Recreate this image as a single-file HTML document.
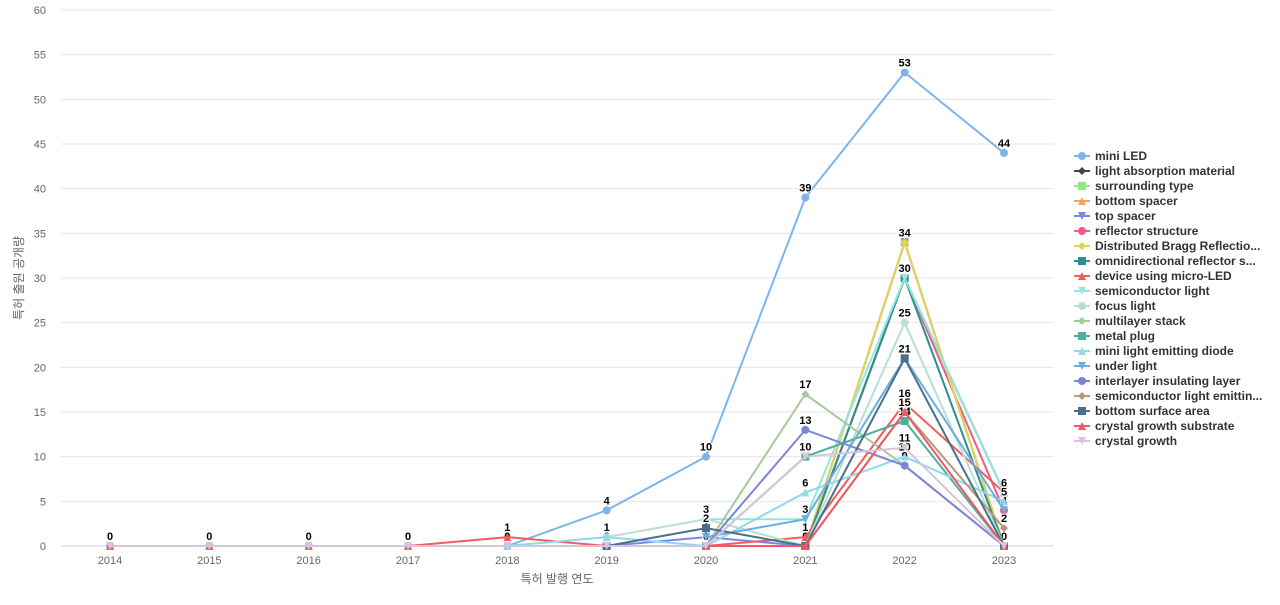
<!DOCTYPE html>
<html><head><meta charset="utf-8"><style>
body{margin:0;background:#fff;font-family:"Liberation Sans","Noto Sans CJK KR",sans-serif}
</style></head><body>
<svg id="c" width="1280" height="600" xmlns="http://www.w3.org/2000/svg"></svg>
<script>
const years=[2014,2015,2016,2017,2018,2019,2020,2021,2022,2023];
const yTicks=[0,5,10,15,20,25,30,35,40,45,50,55,60];
const names=["mini LED","light absorption material","surrounding type","bottom spacer","top spacer","reflector structure","Distributed Bragg Reflectio...","omnidirectional reflector s...","device using micro-LED","semiconductor light","focus light","multilayer stack","metal plug","mini light emitting diode","under light","interlayer insulating layer","semiconductor light emittin...","bottom surface area","crystal growth substrate","crystal growth"];
const colors=["#7cb5ec","#434348","#90ed7d","#f7a35c","#8085e9","#f15c80","#e4d354","#2b908f","#f45b5b","#91e8e1","#b8e0d2","#a5c99a","#4fae98","#8ed9ec","#6aaee0","#7b84d8","#b8967a","#4a708b","#ee5a64","#d8c4dc"];
const s0=[0,0,0,0,0,4,10,39,53,44];
const s1=[null,null,null,null,null,null,null,0,30,6];
const s2=[null,null,null,null,null,null,null,0,34,0];
const s3=[null,null,null,null,null,null,null,0,34,0];
const s4=[null,null,null,null,null,0,1,0,34,0];
const s5=[null,null,null,null,null,null,null,0,30,4];
const s6=[null,null,null,null,null,null,null,0,34,0];
const s7=[null,null,null,null,null,null,null,0,30,0];
const s8=[0,0,0,0,1,0,0,1,16,6];
const s9=[null,null,null,null,null,null,3,3,30,6];
const s10=[null,null,null,null,null,1,3,0,25,0];
const s11=[null,null,null,null,null,null,0,17,9,0];
const s12=[null,null,null,null,null,null,0,10,14,0];
const s13=[null,null,null,null,0,1,0,6,10,5];
const s14=[null,null,null,null,null,null,1,3,21,4];
const s15=[null,null,null,null,null,null,0,13,9,0];
const s16=[null,null,null,null,null,null,0,0,15,2];
const s17=[null,null,null,null,null,0,2,0,21,0];
const s18=[null,null,null,null,null,null,0,0,15,0];
const s19=[0,0,0,0,0,0,0,10,11,0];
const series=[s0,s1,s2,s3,s4,s5,s6,s7,s8,s9,s10,s11,s12,s13,s14,s15,s16,s17,s18,s19];
const shapes=["circle","diamond","square","triangle","tdown"];
const NS="http://www.w3.org/2000/svg";
const svg=document.getElementById('c');
const X0=110,X1=1004,Y0=546,Y1=10,PL=61,PR=1054;
const xs=i=>X0+(X1-X0)*i/(years.length-1);
const ys=v=>Y0-(Y0-Y1)*v/60;
function mk(t,a,p){const e=document.createElementNS(NS,t);for(const k in a)e.setAttribute(k,a[k]);(p||svg).appendChild(e);return e;}
yTicks.forEach(t=>{
 const g=mk('line',{x1:PL,x2:PR,y1:ys(t),y2:ys(t),stroke:t===0?'#ccd6eb':'#e6e6e6','stroke-width':1});
 
 
 const l=mk('text',{x:46,y:ys(t)+4,'text-anchor':'end','font-size':11,fill:'#666'});l.textContent=t;
 
 
});
years.forEach((y,i)=>{
 const l=mk('text',{x:xs(i),y:564,'text-anchor':'middle','font-size':11,fill:'#666'});l.textContent=y;
 
 
});
const xt=mk('text',{x:557,y:583,'text-anchor':'middle','font-size':12,fill:'#666'});xt.textContent='특허 발행 연도';


const yt=mk('text',{x:23,y:278,'text-anchor':'middle','font-size':12,fill:'#666',transform:'rotate(-90 23 278)'});yt.textContent='특허 출원 공개량';


function marker(shape,x,y,c,p,r){
 r=r||4;let e;
 if(shape==='circle')e=mk('circle',{cx:x,cy:y,r:r,fill:c},p);
 else if(shape==='square')e=mk('rect',{x:x-r,y:y-r,width:2*r,height:2*r,fill:c},p);
 else if(shape==='diamond')e=mk('path',{d:`M${x} ${y-r}L${x+r} ${y}L${x} ${y+r}L${x-r} ${y}Z`,fill:c},p);
 else if(shape==='triangle')e=mk('path',{d:`M${x} ${y-r}L${x+r} ${y+r}L${x-r} ${y+r}Z`,fill:c},p);
 else e=mk('path',{d:`M${x-r} ${y-r}L${x+r} ${y-r}L${x} ${y+r}Z`,fill:c},p);
 return e;
}
const labelled={};
series.forEach((s,si)=>{
 const g=mk('g',{});
 
 
 let d='';
 s.forEach((v,i)=>{if(v===null)return;d+=(d?'L':'M')+xs(i)+' '+ys(v);});
 mk('path',{d:d,fill:'none',stroke:colors[si],'stroke-width':2},g);
 s.forEach((v,i)=>{if(v===null)return;
  const m=marker(shapes[si%5],xs(i),ys(v),colors[si],g);
  
  
  const key=i+'_'+v;
  if(!labelled[key]){labelled[key]=1;
   const t=mk('text',{x:xs(i),y:ys(v)-6,'text-anchor':'middle','font-size':11,'font-weight':'bold',fill:'#000',stroke:'#fff','stroke-width':2,'paint-order':'stroke'});
   t.textContent=v;
   
   
  }
 });
});
names.forEach((n,i)=>{
 const g=mk('g',{});
 
 
 const y=156+i*15;
 mk('line',{x1:1074,x2:1090,y1:y,y2:y,stroke:colors[i],'stroke-width':2},g);
 marker(shapes[i%5],1082,y,colors[i],g,4);
 const t=mk('text',{x:1095,y:y+4,'font-size':12,'font-weight':'bold',fill:'#333'},g);t.textContent=n;
});
</script>
</body></html>
